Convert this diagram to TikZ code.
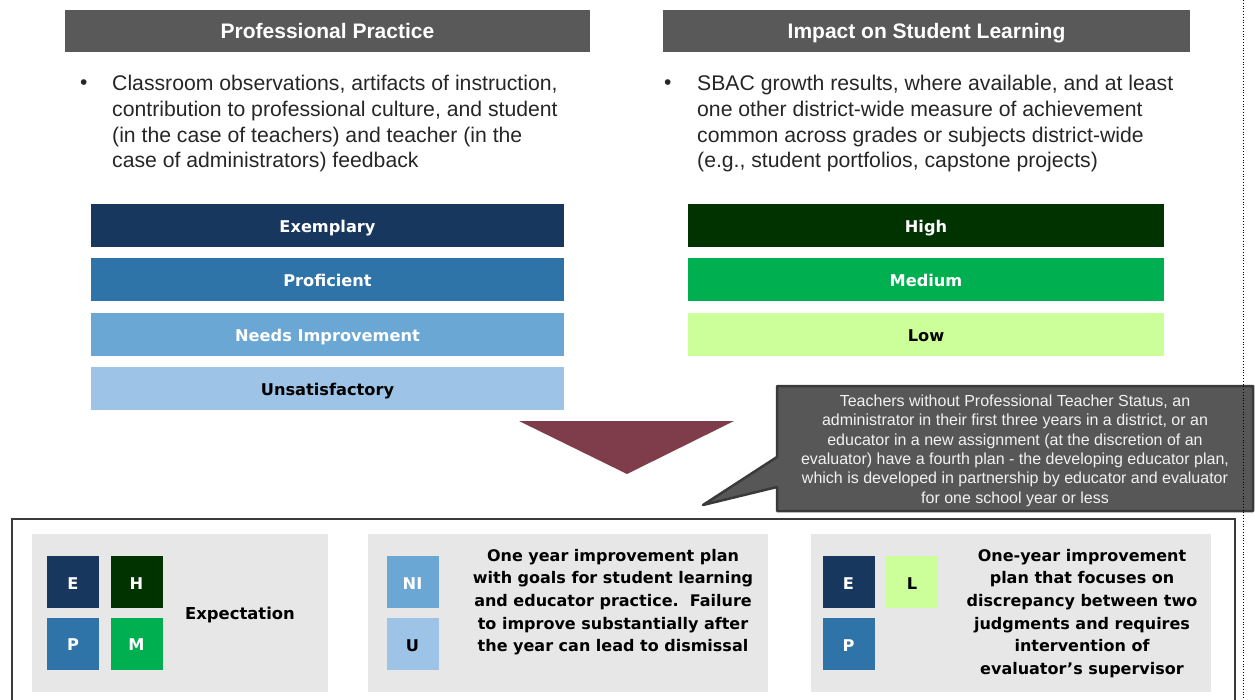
\documentclass[tikz,border=0pt]{standalone}
\usepackage{fontspec}
\setmainfont{Liberation Sans}
\newfontfamily\dvfont{DejaVu Sans}
\definecolor{hdrgray}{HTML}{595959}
\definecolor{cE}{HTML}{17375E}
\definecolor{cP}{HTML}{2E74A8}
\definecolor{cNI}{HTML}{6AA7D5}
\definecolor{cU}{HTML}{9DC3E6}
\definecolor{cH}{HTML}{003300}
\definecolor{cM}{HTML}{00B050}
\definecolor{cL}{HTML}{CCFF99}
\definecolor{tri}{HTML}{7F3C4A}
\definecolor{callfill}{HTML}{575757}
\definecolor{callline}{HTML}{3A3A3A}
\definecolor{panelgray}{HTML}{E7E7E7}
\definecolor{framegray}{HTML}{3A3A3A}
\definecolor{calltext}{HTML}{F2F2F2}
\begin{document}
\begin{tikzpicture}[x=1pt,y=-1pt,
  hdr/.style={fill=hdrgray, text=white, inner sep=0pt, outer sep=0pt,
    minimum height=42pt, text height=15pt, text depth=0pt,
    font=\fontsize{21pt}{25pt}\selectfont\bfseries},
  bar/.style={inner sep=0pt, outer sep=0pt, minimum height=43pt,
    text height=14.7pt, text depth=0pt,
    font={\dvfont\bfseries\fontsize{16.2pt}{19pt}\selectfont}},
  sq/.style={inner sep=0pt, outer sep=0pt, minimum width=52pt, minimum height=52pt,
    text height=14.7pt, text depth=0pt,
    font={\dvfont\bfseries\fontsize{16.2pt}{19pt}\selectfont}},
  panel/.style={fill=panelgray, inner sep=0pt, outer sep=0pt, minimum height=158pt},
  body/.style={inner sep=0pt, align=left, anchor=north west,
    font=\fontsize{21.2pt}{25.9pt}\selectfont, text=black!85},
  ptext/.style={inner sep=0pt, align=center, anchor=north,
    font={\dvfont\bfseries\fontsize{16pt}{22.6pt}\selectfont}},
  bul/.style={inner sep=0pt, anchor=base west, font=\fontsize{21pt}{25pt}\selectfont, text=black!85}
]
\useasboundingbox (0,0) rectangle (1255,700);
\fill[white] (0,0) rectangle (1255,700);

% headers
\node[hdr, minimum width=525pt] (hpp) at (327.5,31) {Professional Practice};
\node[hdr, minimum width=527pt] (hisl) at (926.5,31) {Impact on Student Learning};

% bullet texts
\node[bul] (b1) at (80,90) {•};
\node[body] (t1) at (112,74.7) {Classroom observations, artifacts of instruction,\\
contribution to professional culture, and student\\
(in the case of teachers) and teacher (in the\\
case of administrators) feedback};
\node[bul] (b2) at (664,90) {•};
\node[body] (t2) at (697,74.7) {SBAC growth results, where available, and at least\\
one other district-wide measure of achievement\\
common across grades or subjects district-wide\\
(e.g., student portfolios, capstone projects)};

% left bars
\node[bar, fill=cE, text=white, minimum width=473pt] (ex) at (327.5,225.5) {Exemplary};
\node[bar, fill=cP, text=white, minimum width=473pt] (pr) at (327.5,279.5) {Proficient};
\node[bar, fill=cNI, text=white, minimum width=473pt] (ni) at (327.5,334.5) {Needs Improvement};
\node[bar, fill=cU, text=black, minimum width=473pt] (un) at (327.5,388.5) {Unsatisfactory};

% right bars
\node[bar, fill=cH, text=white, minimum width=476pt] (hi) at (926,225.5) {High};
\node[bar, fill=cM, text=white, minimum width=476pt] (me) at (926,279.5) {Medium};
\node[bar, fill=cL, text=black, minimum width=476pt] (lo) at (926,334.5) {Low};

% triangle
\fill[tri] (519,421) -- (734,421) -- (627,474) -- cycle;

% callout
\draw[callline, line width=2.5pt, fill=callfill, line join=round]
  (777,386) -- (1253,386) -- (1253,511) -- (777,511) -- (777,487) -- (703,505) -- (777,457) -- cycle;
\node[inner sep=0pt, align=center, anchor=north, text=calltext,
  font=\fontsize{16pt}{19.4pt}\selectfont] (call) at (1015,394.5)
  {Teachers without Professional Teacher Status, an\\
administrator in their first three years in a district, or an\\
educator in a new assignment (at the discretion of an\\
evaluator) have a fourth plan - the developing educator plan,\\
which is developed in partnership by educator and evaluator\\
for one school year or less};

% dotted line
\draw[dotted, line width=0.8pt] (1243,0) -- (1243,700);

% bottom frame
\draw[framegray, line width=1.5pt] (12,710) -- (12,519) -- (1235,519) -- (1235,710);

% panels
\node[panel, minimum width=296pt] (p1) at (180,613) {};
\node[panel, minimum width=400pt] (p2) at (568,613) {};
\node[panel, minimum width=400pt] (p3) at (1011,613) {};

% panel 1
\node[sq, fill=cE, text=white] (e1) at (73,582) {E};
\node[sq, fill=cH, text=white] (h1) at (136.5,582) {H};
\node[sq, fill=cP, text=white] (pp1) at (73,643.5) {P};
\node[sq, fill=cM, text=white] (m1) at (136.5,643.5) {M};
\node[inner sep=0pt, font={\dvfont\bfseries\fontsize{16.4pt}{19pt}\selectfont}] (expt) at (240,615) {Expectation};

% panel 2
\node[sq, fill=cNI, text=white] (ni2) at (412.5,582) {NI};
\node[sq, fill=cU, text=black] (u2) at (412.5,644) {U};
\node[ptext] (tx2) at (613,549) {One year improvement plan\\
with goals for student learning\\
and educator practice.\ \ Failure\\
to improve substantially after\\
the year can lead to dismissal};

% panel 3
\node[sq, fill=cE, text=white] (e3) at (848.5,582) {E};
\node[sq, fill=cL, text=black] (l3) at (912,582) {L};
\node[sq, fill=cP, text=white] (pp3) at (848.5,644) {P};
\node[ptext] (tx3) at (1082,549) {One-year improvement\\
plan that focuses on\\
discrepancy between two\\
judgments and requires\\
intervention of\\
evaluator’s supervisor};
\end{tikzpicture}
\end{document}
